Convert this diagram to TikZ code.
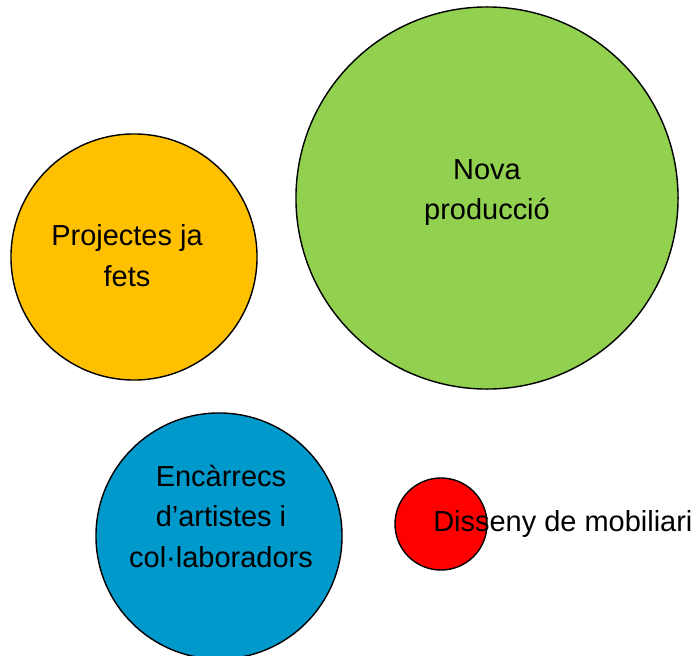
\documentclass[tikz,border=0pt]{standalone}
\usepackage{fontspec}
\setmainfont{Liberation Sans}
\usetikzlibrary{positioning}
\definecolor{taronja}{HTML}{FFC000}
\definecolor{verd}{HTML}{92D050}
\definecolor{blau}{HTML}{0099CC}
\definecolor{vermell}{HTML}{FF0000}

\begin{document}
\begin{tikzpicture}[
    x=0.025cm, y=-0.025cm,
    bombolla/.style={circle, draw=black, line width=1pt, inner sep=0pt},
    etiqueta/.style={align=center, inner sep=0pt, anchor=base, font=\fontsize{20.6pt}{28.45pt}\selectfont}
]
\useasboundingbox (0,0) rectangle (697,656);

% Bombolles
\node[bombolla, fill=taronja, minimum size=6.15cm] (fets) at (134,257) {};
\node[bombolla, fill=verd, minimum size=9.55cm] (nova) at (487,198) {};
\node[bombolla, fill=blau, minimum size=6.15cm] (encarrecs) at (219,536) {};
\node[bombolla, fill=vermell, minimum size=2.3cm] (mobiliari) at (441,524) {};

% Textos (base = darrera linia)
\node[etiqueta] (tfets) at (127,286) {Projectes ja\\fets};
\node[etiqueta] (tnova) at (487,220) {Nova\\producció};
\node[etiqueta] (tencarrecs) at (221,567) {Encàrrecs\\d’artistes i\\col·laboradors};
\node[etiqueta, anchor=base west] (tmobiliari) at (433,531) {Disseny de mobiliari};

\end{tikzpicture}
\end{document}
